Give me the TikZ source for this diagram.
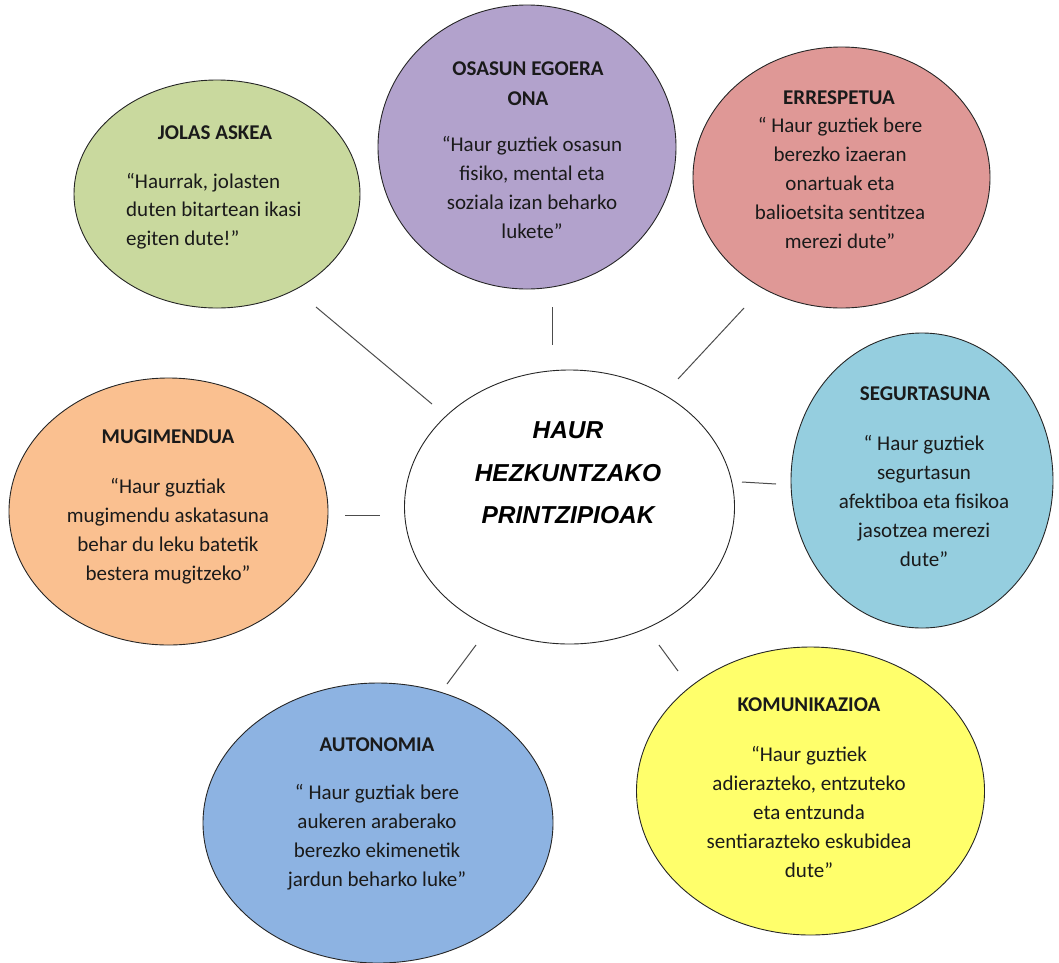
\documentclass[tikz,border=0pt]{standalone}
\usepackage{fontspec}
\setmainfont{Carlito}
\newfontfamily\arialf{Liberation Sans}
\usetikzlibrary{shapes.geometric}
\definecolor{cgreen}{HTML}{C9D99E}
\definecolor{cpurple}{HTML}{B2A2CC}
\definecolor{cpink}{HTML}{DF9896}
\definecolor{caqua}{HTML}{95CEDF}
\definecolor{corange}{HTML}{FAC090}
\definecolor{cblue}{HTML}{8DB3E2}
\definecolor{cyellow}{HTML}{FFFF6B}
\definecolor{ctext}{HTML}{1A1A1A}
\begin{document}
\begin{tikzpicture}[x=1pt,y=-1pt,
  bubble/.style={ellipse, draw=black!85, line width=0.9pt, inner sep=0pt},
  ttl/.style={font=\fontsize{21}{30}\selectfont\bfseries, align=center, inner sep=0pt, text=ctext},
  body/.style={font=\fontsize{21}{29}\selectfont, align=center, inner sep=0pt, text=ctext},
  link/.style={draw=black!70, line width=1pt}]
\useasboundingbox (0,0) rectangle (1059,962);

% bubbles
\node[bubble, fill=cgreen,  minimum width=286, minimum height=228] (jolas)  at (217,194) {};
\node[bubble, fill=cpurple, minimum width=298, minimum height=284] (osasun) at (527,147) {};
\node[bubble, fill=cpink,   minimum width=297, minimum height=261] (erresp) at (841.5,177.5) {};
\node[bubble, fill=caqua,   minimum width=262, minimum height=295] (segur)  at (922,480.5) {};
\node[bubble, fill=corange, minimum width=319, minimum height=267] (mugi)   at (168.5,511.5) {};
\node[bubble, fill=cblue,   minimum width=350, minimum height=280] (auto)   at (378,823) {};
\node[bubble, fill=cyellow, minimum width=348, minimum height=288] (komu)   at (810.5,791) {};
\node[bubble, fill=white,   minimum width=330, minimum height=274] (haur)   at (569.5,507) {};

% connectors (free-standing short strokes)
\coordinate (l1a) at (316,307); \coordinate (l1b) at (432,404);
\coordinate (l2a) at (552,307); \coordinate (l2b) at (552,345);
\coordinate (l3a) at (744,308); \coordinate (l3b) at (678,379);
\coordinate (l4a) at (742,482); \coordinate (l4b) at (776,484);
\coordinate (l5a) at (659,645); \coordinate (l5b) at (678,671);
\coordinate (l6a) at (476,645); \coordinate (l6b) at (447,684);
\coordinate (l7a) at (345,515); \coordinate (l7b) at (380,515);
\draw[link] (l1a) -- (l1b);
\draw[link] (l2a) -- (l2b);
\draw[link] (l3a) -- (l3b);
\draw[link] (l4a) -- (l4b);
\draw[link] (l5a) -- (l5b);
\draw[link] (l6a) -- (l6b);
\draw[link] (l7a) -- (l7b);

% texts
\node[ttl, anchor=base] (jolas-t) at (215,139) {JOLAS ASKEA};
\node[body, font=\fontsize{21}{28.5}\selectfont, align=left, anchor=north west] (jolas-b) at (126,168) {\strut“Haurrak, jolasten\\duten bitartean ikasi\\egiten dute!”};

\node[ttl, anchor=north] (osasun-t) at (528,53.8) {\strut OSASUN EGOERA\\ONA};
\node[body, anchor=north] (osasun-b) at (532,130.7) {\strut“Haur guztiek osasun\\fisiko, mental eta\\soziala izan beharko\\lukete”};

\node[ttl, anchor=base] (erresp-t) at (839,104.8) {ERRESPETUA};
\node[body, anchor=north] (erresp-b) at (840,111.7) {\strut“ Haur guztiek bere\\berezko izaeran\\onartuak eta\\balioetsita sentitzea\\merezi dute”};

\node[ttl, anchor=base] (segur-t) at (925,400.8) {SEGURTASUNA};
\node[body, anchor=north] (segur-b) at (924,429.7) {\strut“ Haur guztiek\\segurtasun\\afektiboa eta fisikoa\\jasotzea merezi\\dute”};

\node[ttl, anchor=base] (mugi-t) at (168,443.8) {MUGIMENDUA};
\node[body, anchor=north] (mugi-b) at (168,472.7) {\strut“Haur guztiak\\mugimendu askatasuna\\behar du leku batetik\\bestera mugitzeko”};

\node[ttl, anchor=base] (auto-t) at (377,751.8) {AUTONOMIA};
\node[body, anchor=north] (auto-b) at (377,778.7) {\strut“ Haur guztiak bere\\aukeren araberako\\berezko ekimenetik\\jardun beharko luke”};

\node[ttl, anchor=base] (komu-t) at (809,711.8) {KOMUNIKAZIOA};
\node[body, anchor=north] (komu-b) at (809,740.7) {\strut“Haur guztiek\\adierazteko, entzuteko\\eta entzunda\\sentiarazteko eskubidea\\dute”};

\node[font=\arialf\fontsize{24.5}{42.5}\selectfont\bfseries\itshape, align=center, inner sep=0pt, anchor=north] (haur-t) at (568,409) {\strut HAUR\\HEZKUNTZAKO\\PRINTZIPIOAK};
\end{tikzpicture}
\end{document}
